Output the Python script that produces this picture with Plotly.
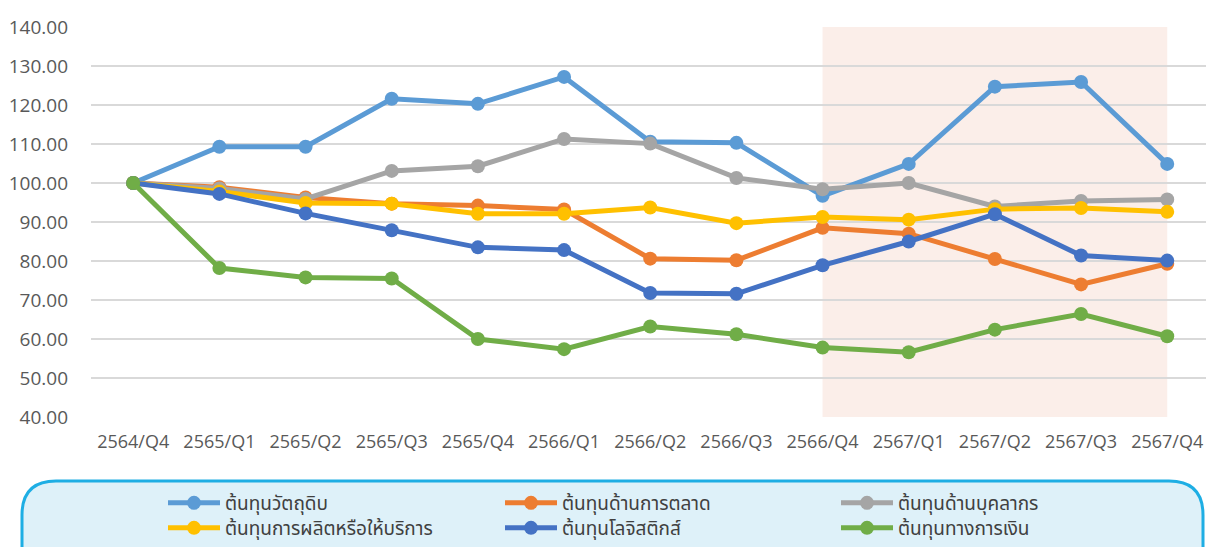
import plotly.graph_objects as go

quarters = ["2564/Q4", "2565/Q1", "2565/Q2", "2565/Q3", "2565/Q4", "2566/Q1", "2566/Q2",
            "2566/Q3", "2566/Q4", "2567/Q1", "2567/Q2", "2567/Q3", "2567/Q4"]

raw_material = [100.0, 109.3, 109.3, 121.6, 120.3, 127.2, 110.6, 110.3, 96.7, 104.9, 124.7, 125.9, 104.9]
marketing = [100.0, 98.9, 96.3, 94.7, 94.2, 93.2, 80.6, 80.2, 88.5, 87.0, 80.5, 74.0, 79.3]
personnel = [100.0, 98.6, 95.9, 103.1, 104.3, 111.3, 110.1, 101.3, 98.4, 100.0, 94.0, 95.4, 95.8]
production = [100.0, 97.8, 94.9, 94.7, 92.1, 92.1, 93.7, 89.7, 91.3, 90.6, 93.3, 93.6, 92.6]
logistics = [100.0, 97.2, 92.2, 87.9, 83.5, 82.8, 71.8, 71.6, 78.9, 85.0, 92.0, 81.4, 80.1]
finance = [100.0, 78.2, 75.8, 75.5, 60.0, 57.4, 63.2, 61.2, 57.8, 56.6, 62.4, 66.4, 60.7]

series_names = ["ต้นทุนวัตถุดิบ", "ต้นทุนด้านการตลาด", "ต้นทุนด้านบุคลากร",
                "ต้นทุนการผลิตหรือให้บริการ", "ต้นทุนโลจิสติกส์", "ต้นทุนทางการเงิน"]
series_values = [raw_material, marketing, personnel, production, logistics, finance]
series_colors = ["#5B9BD5", "#ED7D31", "#A5A5A5", "#FFC000", "#4472C4", "#70AD47"]

y_ticks = [40, 50, 60, 70, 80, 90, 100, 110, 120, 130, 140]

W, H = 1206, 547
L, R, T, B = 91, 0, 27, 130

# legend slot (left px, centre y px) for each series: 3 columns x 2 rows
legend_slots = [(163, 503), (500, 503), (836, 503), (163, 528), (500, 528), (836, 528)]

fig = go.Figure()
legend_layouts = {}
for i, (name, vals, col) in enumerate(zip(series_names, series_values, series_colors)):
    lid = "legend" if i == 0 else f"legend{i + 1}"
    fig.add_trace(go.Scatter(
        x=quarters, y=vals, name=name, mode="lines+markers",
        line=dict(color=col, width=5),
        marker=dict(color=col, size=14),
        legend=lid,
    ))
    lx, ly = legend_slots[i]
    legend_layouts[lid] = dict(
        xref="container", yref="container",
        x=lx / W, y=1 - ly / H, xanchor="left", yanchor="middle",
        bgcolor="rgba(0,0,0,0)", borderwidth=0,
        font=dict(size=19, color="#404040"),
        itemwidth=52,
    )

# shaded forecast region
fig.add_shape(type="rect", xref="x", yref="y", x0=quarters[8], x1=quarters[12],
              y0=40, y1=140, fillcolor="#FBEEE9", line=dict(width=0), layer="below")

# rounded legend box (pixel coords -> paper coords)
pw, ph = W - L - R, H - T - B
def px(x):
    return (x - L) / pw
def py(y):
    return (H - B - y) / ph

x0, x1, ytop, ybot, r = 22, 1203, 481, 600, 34
path = (f"M{px(x0 + r)},{py(ytop)} L{px(x1 - r)},{py(ytop)} "
        f"Q{px(x1)},{py(ytop)} {px(x1)},{py(ytop + r)} "
        f"L{px(x1)},{py(ybot)} L{px(x0)},{py(ybot)} L{px(x0)},{py(ytop + r)} "
        f"Q{px(x0)},{py(ytop)} {px(x0 + r)},{py(ytop)} Z")
fig.add_shape(type="path", xref="paper", yref="paper", path=path,
              fillcolor="#DEF1F9", line=dict(color="#1EAEE4", width=3), layer="below")

fig.update_layout(
    width=W, height=H,
    margin=dict(l=L, r=R, t=T, b=B, pad=0, autoexpand=False),
    plot_bgcolor="white", paper_bgcolor="white",
    font=dict(family="Open Sans, Noto Sans Thai, Tahoma, sans-serif", color="#595959"),
    showlegend=True,
    **legend_layouts,
)
fig.update_xaxes(
    type="category", range=[-0.49, 12.45], automargin=False,
    showgrid=False, zeroline=False, showline=False, ticks="",
    tickfont=dict(size=18, color="#595959"), ticklabelstandoff=12,
)
fig.update_yaxes(
    range=[40, 140], tickvals=y_ticks, ticktext=[f"{v:.2f}" for v in y_ticks],
    automargin=False,
    showgrid=True, gridcolor="#D9D9D9", gridwidth=1.5,
    zeroline=False, showline=False, ticks="",
    tickfont=dict(size=19, color="#595959"), ticklabelstandoff=22,
)

fig.write_html("out.html", config={"displayModeBar": False},
               post_script="document.body.style.margin='0';document.body.style.overflow='hidden';")
